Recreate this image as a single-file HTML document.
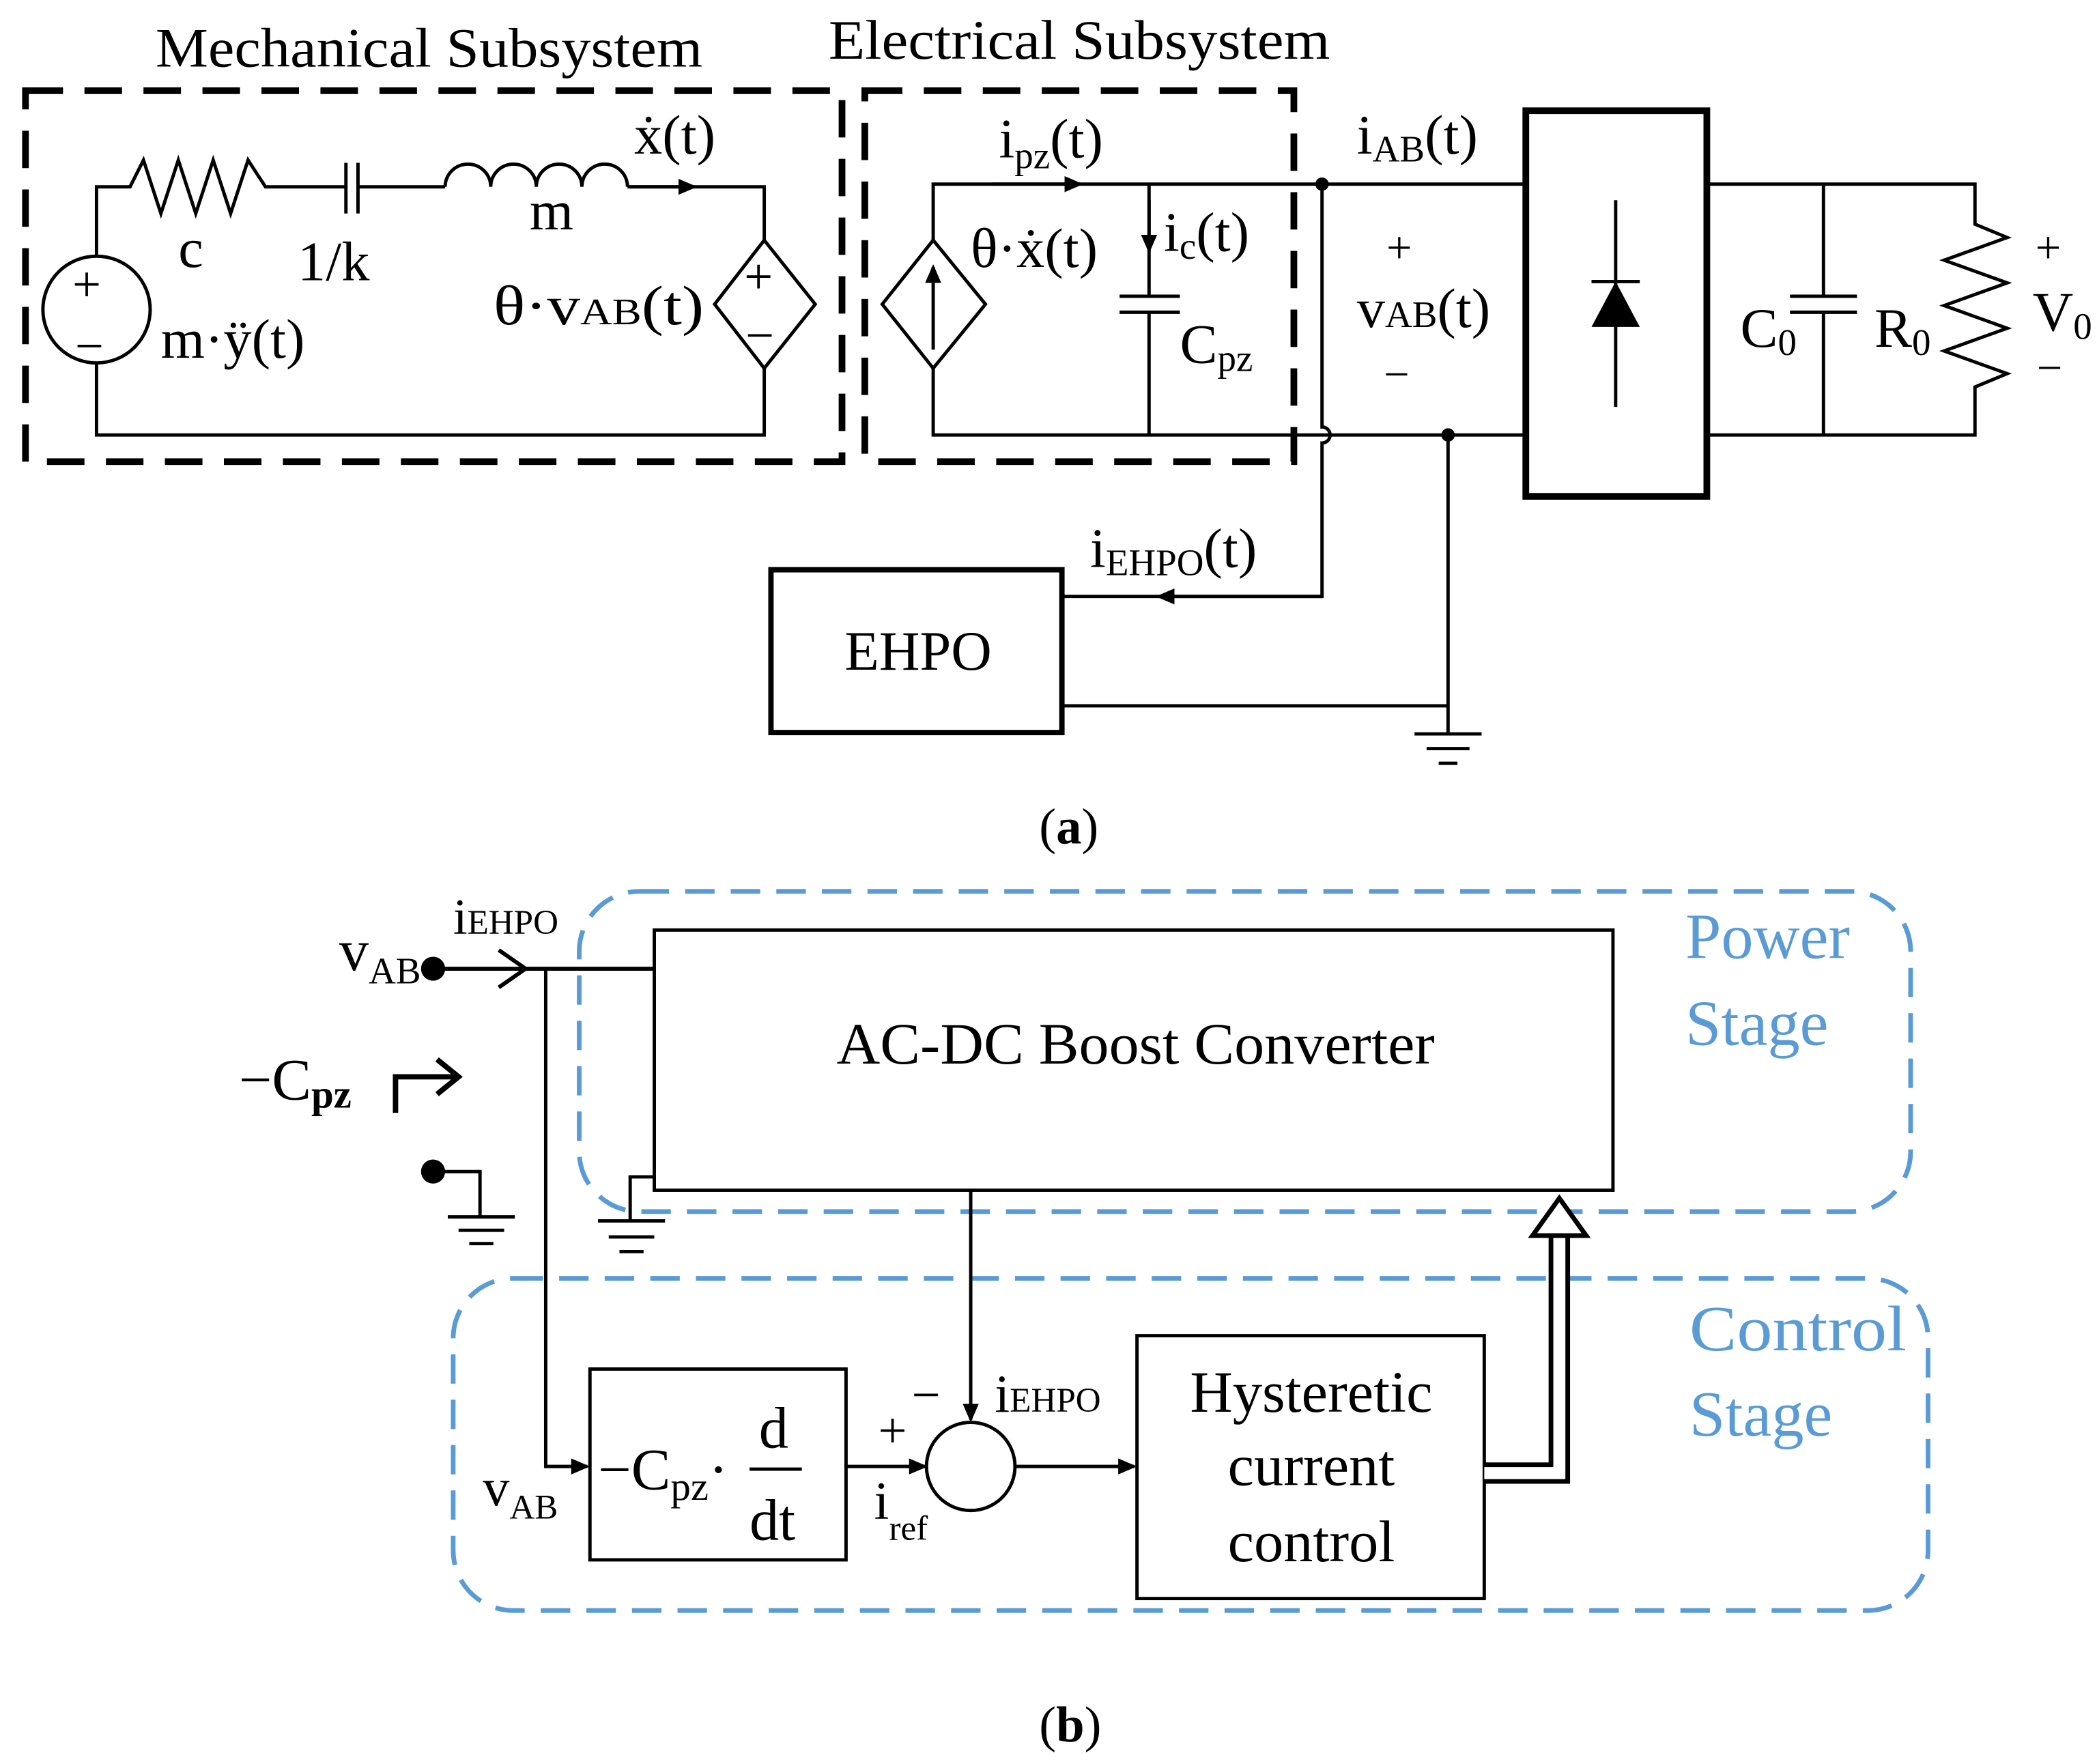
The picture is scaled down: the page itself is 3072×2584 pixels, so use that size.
<!DOCTYPE html>
<html><head><meta charset="utf-8"><style>html,body{margin:0;padding:0;background:#fff}svg{display:block}text{font-family:"Liberation Serif",serif;fill:#000}</style></head><body>
<svg width="3072" height="2584" viewBox="0 0 1564 1322" preserveAspectRatio="none" xmlns="http://www.w3.org/2000/svg">
<defs>
<marker id="ar" markerWidth="14" markerHeight="12" refX="12" refY="6" orient="auto" markerUnits="userSpaceOnUse"><path d="M0,0 L14,6 L0,12 z" fill="#000"/></marker>
</defs>
<g fill="none" stroke="#000" stroke-width="2.5">
<rect x="19" y="68" width="609" height="278" stroke-width="5" stroke-dasharray="28 16"/>
<rect x="645" y="68" width="320" height="278" stroke-width="5" stroke-dasharray="28 16"/>
<circle cx="72" cy="232" r="40"/>
<path d="M72,192 V140 H97 L107,120 L120,160 L133,120 L146,160 L159,120 L172,160 L185,120 L198,140 H258"/>
<path d="M258,122 V160 M267,122 V160" />
<path d="M267,140 H332"/>
<path d="M332,140 a17,17 0 0 1 34,0 a17,17 0 0 1 34,0 a17,17 0 0 1 34,0 a17,17 0 0 1 34,0"/>
<path d="M468,140 H570 V180"/>
<path d="M470,140 H518" marker-end="url(#ar)"/>
<path d="M570,180 L608,228 L570,276 L533,228 Z"/>
<path d="M570,276 V326 H72 V272"/>
<path d="M696,180 L735,228 L696,276 L658,228 Z"/>
<path d="M696,262 V200" marker-end="url(#ar)"/>
<path d="M696,180 V138 H1138"/>
<path d="M740,138 H806" marker-end="url(#ar)"/>
<path d="M857,138 V222 M835,222 H880 M835,234 H880 M857,234 V326"/>
<path d="M857,150 V188" marker-end="url(#ar)"/>
<path d="M696,276 V326 H1138"/>
<path d="M986,138 V320 a6,6 0 0 1 0,12 V447 H792"/>
<path d="M986,447 H864" marker-end="url(#ar)"/>
<path d="M1080,326 V550"/>
<path d="M792,529 H1080"/>
<path d="M1055,550 H1105 M1064,561 H1096 M1073,572 H1087"/>
<rect x="575" y="427" width="217" height="122" stroke-width="4"/>
<rect x="1138" y="83" width="135" height="289" stroke-width="5"/>
<path d="M1205,150 V305 M1187,211 H1223"/>
<path d="M1273,138 H1473 V168 L1497,178 L1450,195 L1497,212 L1450,229 L1497,246 L1450,263 L1497,280 L1473,290 V326 H1273"/>
<path d="M1360,138 V222 M1335,222 H1385 M1335,234 H1385 M1360,234 V326"/>
</g>
<circle cx="986" cy="138" r="5"/><circle cx="1080" cy="326" r="5"/>
<path d="M1205,211 L1223,245 L1187,245 Z"/>
<g font-size="42">
<text x="116" y="50" textLength="408" lengthAdjust="spacingAndGlyphs">Mechanical Subsystem</text>
<text x="618" y="44" textLength="374" lengthAdjust="spacingAndGlyphs">Electrical Subsystem</text>
<text x="54" y="226" font-size="38">+</text>
<text x="56" y="272" font-size="38">−</text>
<text x="555" y="220" font-size="38">+</text>
<text x="556" y="264" font-size="38">−</text>
<text x="133" y="200">c</text>
<text x="222" y="210">1/k</text>
<text x="395" y="172">m</text>
<text x="473" y="115">ẋ(t)</text>
<text x="368" y="243" textLength="157" lengthAdjust="spacingAndGlyphs">θ·v<tspan font-size="28">AB</tspan>(t)</text>
<text x="120" y="268">m·ÿ(t)</text>
<text x="745" y="118">i<tspan font-size="28" dy="8">pz</tspan><tspan dy="-8">(t)</tspan></text>
<text x="724" y="200">θ·ẋ(t)</text>
<text x="868" y="188">i<tspan font-size="28" dy="6">c</tspan><tspan dy="-6">(t)</tspan></text>
<text x="880" y="272">C<tspan font-size="28" dy="6">pz</tspan></text>
<text x="1012" y="115">i<tspan font-size="28" dy="6">AB</tspan><tspan dy="-6">(t)</tspan></text>
<text x="1034" y="197" font-size="34">+</text>
<text x="1012" y="245">v<tspan font-size="28">AB</tspan>(t)</text>
<text x="1032" y="292" font-size="34">−</text>
<text x="1298" y="260">C<tspan font-size="28" dy="6">0</tspan></text>
<text x="1398" y="260">R<tspan font-size="28" dy="6">0</tspan></text>
<text x="1518" y="197" font-size="34">+</text>
<text x="1516" y="248">V<tspan font-size="28" dy="6">0</tspan></text>
<text x="1519" y="287" font-size="34">−</text>
<text x="813" y="425">i<tspan font-size="28" dy="6">EHPO</tspan><tspan dy="-6">(t)</tspan></text>
<text x="630" y="502" font-size="42">EHPO</text>
<text x="775" y="632" font-size="38">(<tspan font-weight="bold">a</tspan>)</text>
</g>
<g fill="none" stroke="#5b9bd5" stroke-width="3.5" stroke-dasharray="22 12">
<rect x="432" y="668" width="993" height="240" rx="45"/>
<rect x="338" y="958" width="1100" height="249" rx="45"/>
</g>
<g fill="none" stroke="#000" stroke-width="2.5">
<rect x="488" y="697" width="715" height="195"/>
<path d="M323,726 H488 M372,712 L392,726 L372,740" stroke-width="3"/>
<path d="M407,726 V1099 H438" marker-end="url(#ar)"/>
<path d="M295,834 V807 H340 M326,794 L342,807 L326,820" stroke-width="4"/>
<path d="M323,878 H358 V912 M334,912 H384 M342,922 H376 M350,932 H368"/>
<path d="M488,882 H470 V915 M446,915 H496 M454,927 H488 M462,938 H480"/>
<rect x="440" y="1026" width="191" height="143"/>
<path d="M559,1101 H598"/>
<path d="M631,1099 H690" marker-end="url(#ar)"/>
<circle cx="724" cy="1099" r="33"/>
<path d="M724,892 V1064" marker-end="url(#ar)"/>
<path d="M757,1099 H846" marker-end="url(#ar)"/>
<rect x="848" y="1001" width="259" height="197"/>
</g>
<path d="M1107,1104 H1163 V925" fill="none" stroke="#000" stroke-width="16"/>
<path d="M1107,1104 H1163 V925" fill="none" stroke="#fff" stroke-width="9"/>
<path d="M1143,926 L1163,898 L1183,926 Z" fill="#fff" stroke="#000" stroke-width="3.5"/>
<circle cx="323" cy="726" r="9"/><circle cx="323" cy="878" r="9"/>
<g font-size="44">
<text x="253" y="727">v<tspan font-size="28" dy="10">AB</tspan></text>
<text x="338" y="700" font-size="38">i<tspan font-size="26">EHPO</tspan></text>
<text x="178" y="824">−C<tspan font-size="30" dy="6" font-weight="bold">pz</tspan></text>
<text x="624" y="797" textLength="446" lengthAdjust="spacingAndGlyphs">AC-DC Boost Converter</text>
<text x="446" y="1116">−C<tspan font-size="30" dy="8">pz</tspan><tspan dy="-8">·</tspan></text>
<text x="566" y="1085">d</text>
<text x="559" y="1154">dt</text>
<text x="655" y="1085" font-size="38">+</text>
<text x="680" y="1058" font-size="38">−</text>
<text x="742" y="1058" font-size="40">i<tspan font-size="26">EHPO</tspan></text>
<text x="652" y="1138" font-size="40">i<tspan font-size="26" dy="16">ref</tspan></text>
<text x="360" y="1128" font-size="40">v<tspan font-size="26" dy="10">AB</tspan></text>
<text x="978" y="1058" text-anchor="middle">Hysteretic</text>
<text x="978" y="1113" text-anchor="middle">current</text>
<text x="978" y="1170" text-anchor="middle">control</text>
<g font-size="48">
<text x="1257" y="718" style="fill:#5b9bd5">Power</text>
<text x="1257" y="783" style="fill:#5b9bd5">Stage</text>
<text x="1260" y="1012" style="fill:#5b9bd5" textLength="162" lengthAdjust="spacingAndGlyphs">Control</text>
<text x="1260" y="1076" style="fill:#5b9bd5">Stage</text>
</g>
<text x="775" y="1305" font-size="38">(<tspan font-weight="bold">b</tspan>)</text>
</g>
</svg>
</body></html>
